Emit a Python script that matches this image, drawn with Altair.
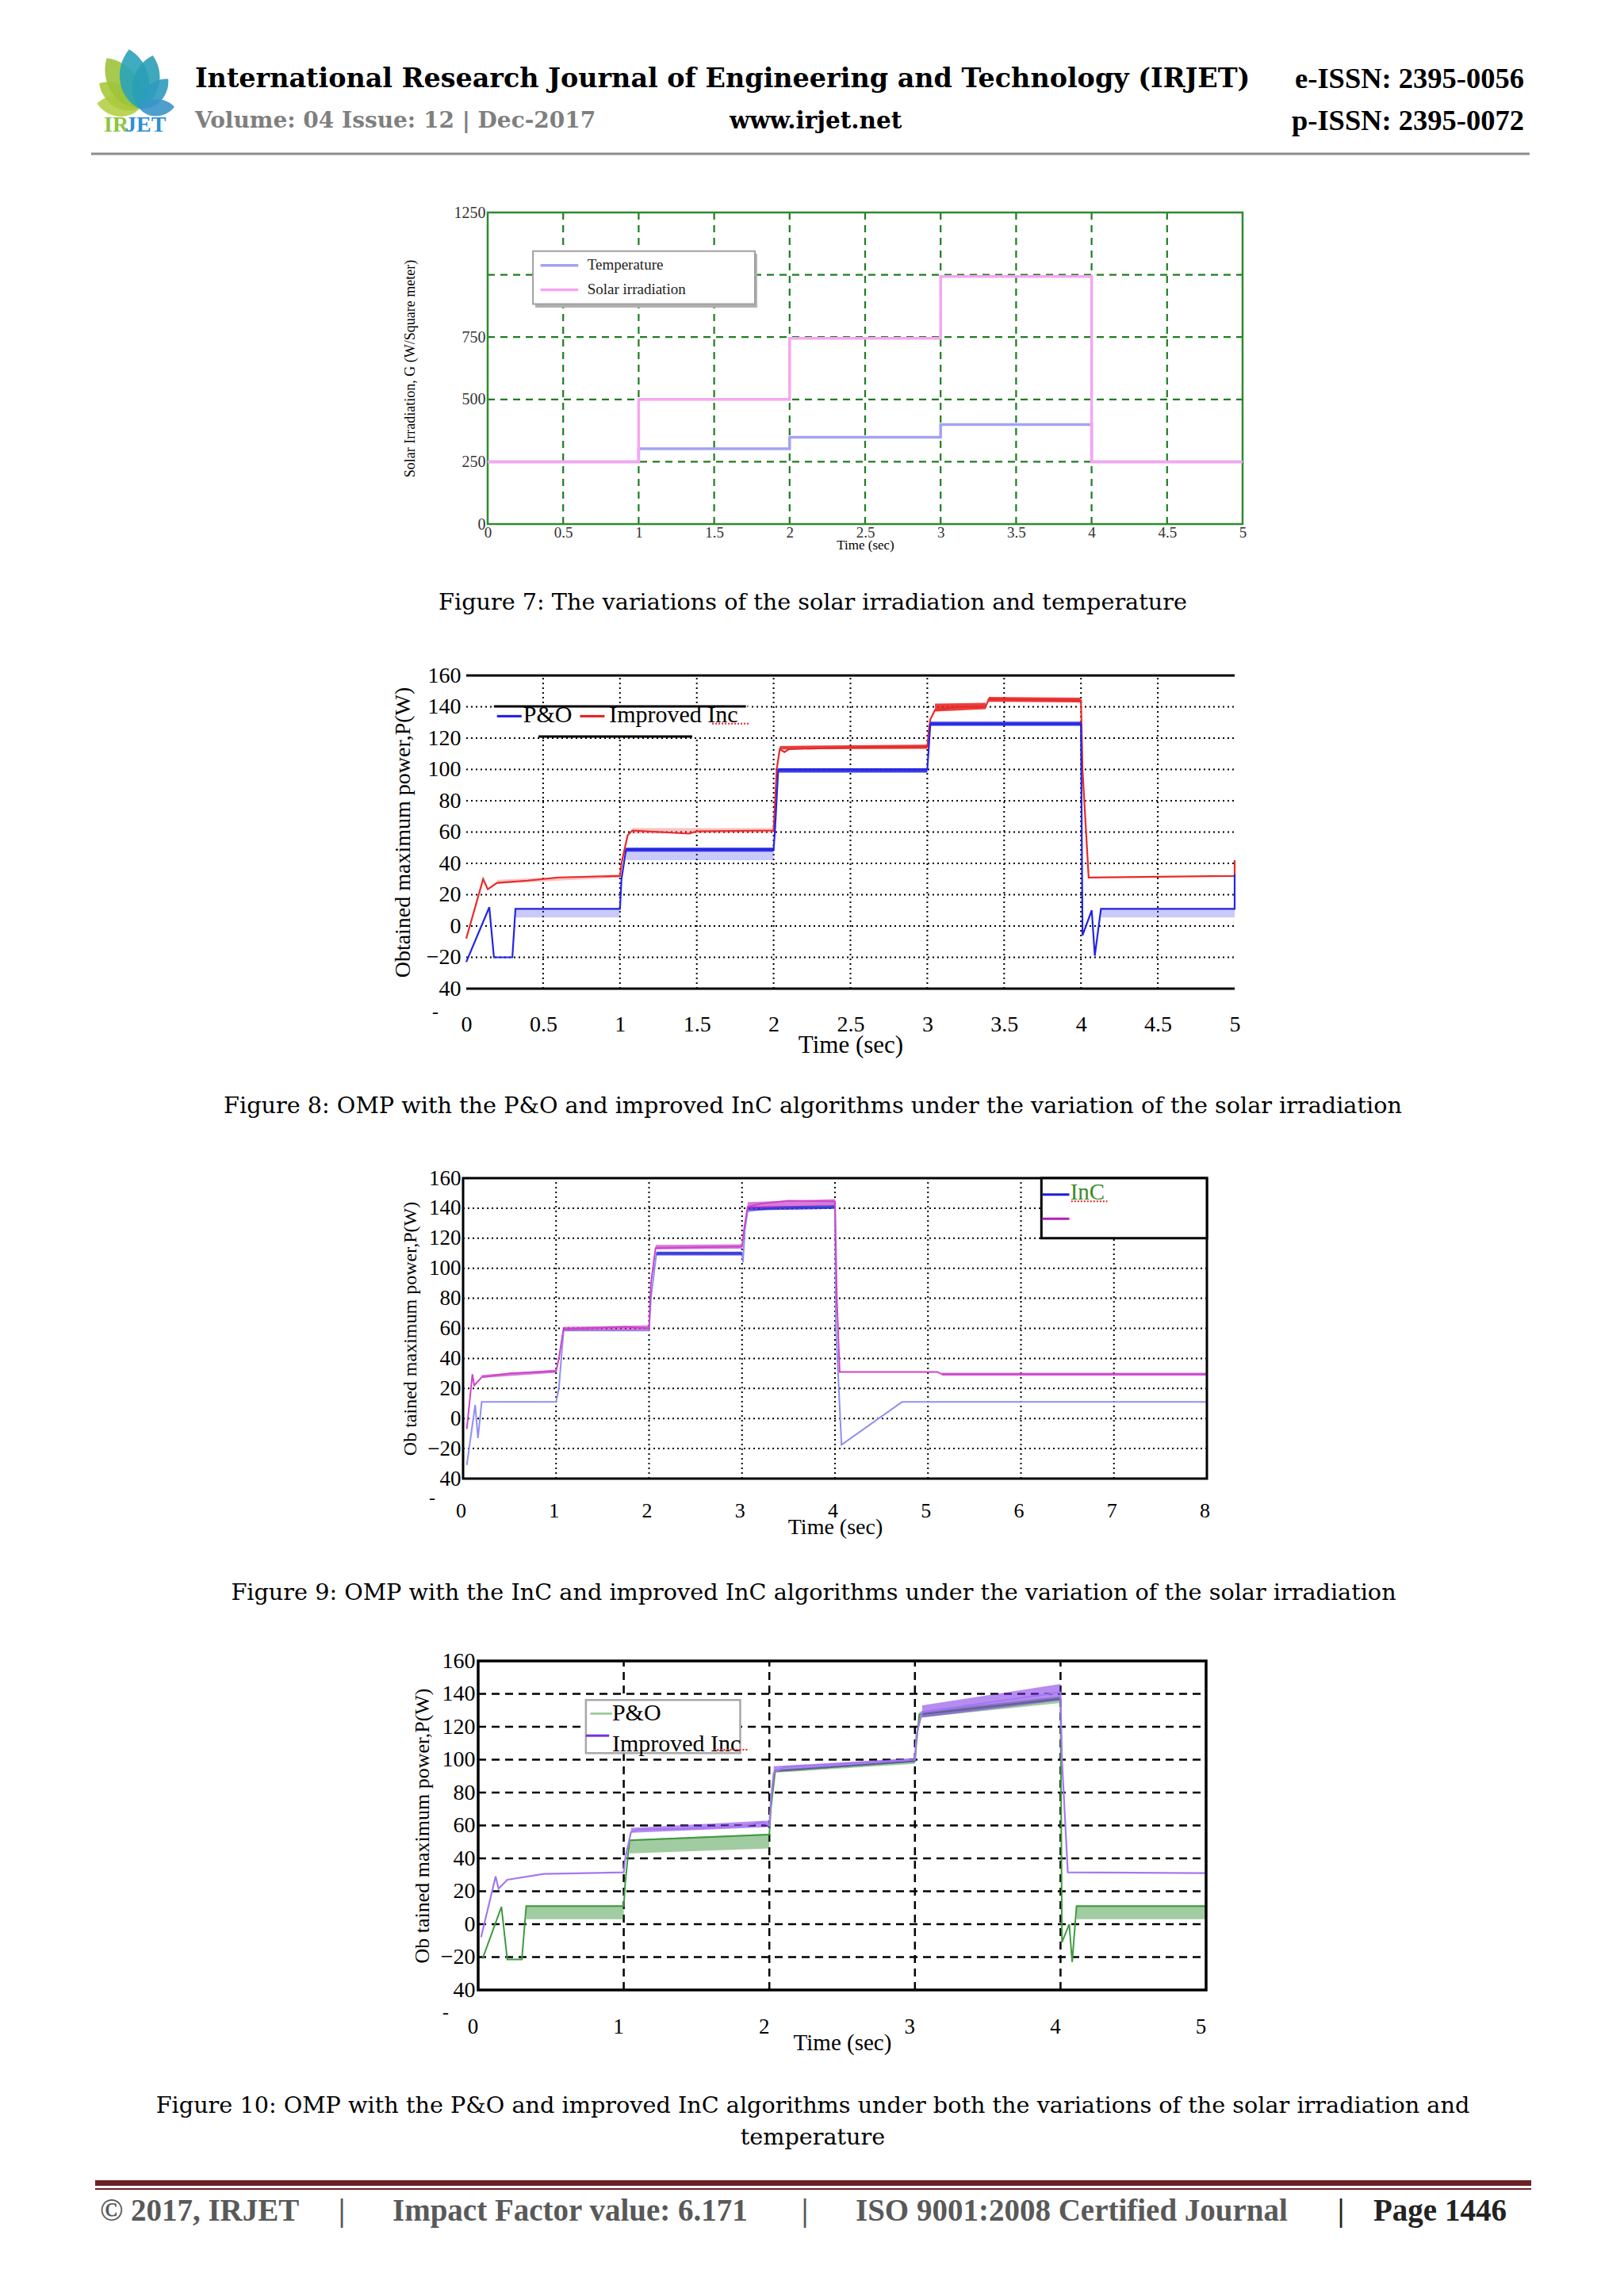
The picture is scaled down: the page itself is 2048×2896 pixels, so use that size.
import altair as alt
import pandas as pd

PAGE_W, PAGE_H = 2048, 2896
M = 8
W, H = PAGE_W - 2 * M, PAGE_H - 2 * M
SERIF = "Liberation Serif"
WIDE = "DejaVu Serif"

# ---------------- data ----------------
# Figure 7: irradiation / temperature steps
f7_t = [0, 1, 1, 2, 2, 3, 3, 4, 4, 5]
f7_solar = [250, 250, 500, 500, 745, 745, 993, 993, 250, 250]
f7_temp = [250, 250, 302, 302, 348, 348, 399, 399, 250, 250]

# Figure 8: P&O and Improved InC
po8_t = [0.00, 0.15, 0.18, 0.30, 0.32, 1.00, 1.01, 1.04, 2.00, 2.01, 2.03, 3.00, 3.02, 4.00, 4.01, 4.07, 4.09, 4.13, 5.00, 5.00]
po8_v = [-23, 12, -20, -20, 11, 11, 30, 49, 49, 63, 100, 100, 129, 129, -6, 10, -19, 11, 11, 33]
po8_ripple = [(0.32, 1.00, 5.5, 11.5, 5.5, 11.5), (1.04, 2.00, 42, 50, 42, 50), (4.13, 5.00, 5.5, 11.5, 5.5, 11.5)]
po8_core = [(1.04, 2.00, 47.5, 50, 47.5, 50), (2.03, 3.00, 98, 100.8, 98, 100.8),
            (3.02, 4.00, 127.8, 130.5, 127.8, 130.5)]
imp8_t = [0.00, 0.11, 0.14, 0.20, 0.40, 0.60, 1.00, 1.01, 1.05, 1.08, 1.45, 1.50, 2.00, 2.01, 2.02, 2.04, 2.07, 2.10,
          2.50, 3.00, 3.01, 3.02, 3.05, 3.20, 3.38, 3.40, 4.00, 4.01, 4.05, 5.00, 5.00]
imp8_v = [-8, 30, 23.5, 27.5, 29, 31, 32, 40, 58, 61, 59, 60.5, 61, 80, 100, 113, 111, 113,
          114, 114.5, 125, 132, 138, 140, 140, 145, 144, 100, 31, 32, 42]
imp8_ripple = [(0.20, 1.00, 27, 29.5, 31, 33), (1.08, 2.00, 59, 62.5, 59.5, 62.5)]
imp8_core = [(2.04, 3.00, 112.8, 115, 113.2, 115.8), (3.05, 3.38, 137, 142, 138.5, 142.5),
             (3.40, 4.00, 143.2, 146.3, 142.8, 145.8)]

# Figure 9: InC and Improved InC
inc9_t = [0.04, 0.13, 0.16, 0.20, 1.00, 1.03, 1.08, 2.00, 2.02, 2.08, 3.00, 3.01, 3.03, 3.06, 3.40, 4.00, 4.01, 4.07, 4.72, 8.00]
inc9_v = [-31, 9, -13, 11, 11, 20, 58.5, 58.5, 80, 110, 110, 104, 125, 138, 140.5, 140.5, 60, -17.5, 11, 11]
inc9_bands = [(2.08, 3.00, 108.5, 111, 108.5, 111), (3.06, 4.00, 138.5, 141, 139.5, 142)]
imp9_t = [0.04, 0.10, 0.12, 0.20, 0.50, 1.00, 1.03, 1.08, 1.75, 2.00, 2.02, 2.07, 3.00, 3.02, 3.06, 3.20, 3.50, 4.00,
          4.02, 4.05, 5.10, 5.15, 8.00]
imp9_v = [-7, 29.5, 22, 27.5, 30, 31.5, 40, 59.5, 61, 60, 90, 113.5, 114.5, 125, 141, 143, 145, 144.5,
          80, 31, 31, 29.5, 29.5]
imp9_bands = [(0.20, 1.00, 27, 29, 30.5, 32.5), (1.08, 2.00, 58.5, 61, 59, 62),
              (2.07, 3.00, 112.5, 115.5, 113, 116), (3.06, 4.00, 139.5, 144, 142, 146),
              (5.15, 8.00, 28.5, 30.5, 28.5, 30.5)]

# Figure 10: P&O and Improved InC (irradiation + temperature)
po10_t = [0.03, 0.16, 0.20, 0.30, 0.33, 1.00, 1.01, 1.04, 2.00, 2.01, 2.04, 3.00, 3.01, 3.03, 4.00, 4.01, 4.06, 4.08, 4.11, 5.00]
po10_v = [-21, 10.5, -21.5, -21.5, 11, 11, 25, 51, 54.5, 70, 93, 99, 110, 127.5, 137, -11, 0, -23, 11, 11]
po10_bands = [(0.33, 1.00, 3, 11.5, 3, 11.5), (1.04, 2.00, 43, 51.5, 46, 55),
              (2.04, 3.00, 92, 94, 97.5, 99.5), (3.03, 4.00, 125.5, 129, 134.5, 138.5),
              (4.11, 5.00, 3, 11.5, 3, 11.5)]
imp10_t = [0.02, 0.12, 0.14, 0.20, 0.45, 1.00, 1.01, 1.05, 1.10, 1.40, 1.80, 1.95, 2.00, 2.01, 2.03, 2.10, 3.00, 3.01,
           3.05, 4.00, 4.01, 4.05, 5.00]
imp10_v = [-8, 29, 21.5, 27, 30.5, 31.5, 40, 56, 57.5, 58, 59.5, 62, 60, 75, 92, 95.5, 100, 115,
           129, 141, 100, 31.5, 31]
imp10_bands = [(1.05, 2.00, 55.5, 58.5, 59, 63), (2.03, 3.00, 92.5, 96, 98.5, 101),
               (3.05, 4.00, 125.5, 133, 136, 146)]

# tick values
x_half = [0, 0.5, 1, 1.5, 2, 2.5, 3, 3.5, 4, 4.5, 5]
x_int5 = [0, 1, 2, 3, 4, 5]
x_int8 = [0, 1, 2, 3, 4, 5, 6, 7, 8]
y_pow = [-40, -20, 0, 20, 40, 60, 80, 100, 120, 140, 160]
y_f7 = [0, 250, 500, 750, 1250]

# ---------------- geometry (page pixels) ----------------
F = {
    'f7': dict(x0=615, x1=1567, yb=661, yt=268, xd=[0, 5], yd=[0, 1250]),
    'f8': dict(x0=588, x1=1557, yb=1247, yt=852, xd=[0, 5], yd=[-40, 160]),
    'f9': dict(x0=584, x1=1522, yb=1865, yt=1486, xd=[0, 8], yd=[-40, 160]),
    'f10': dict(x0=603, x1=1521, yb=2510, yt=2095, xd=[0, 5], yd=[-40, 160]),
}


def sx(f):
    g = F[f]
    return alt.Scale(domain=g['xd'], range=[g['x0'] - M, g['x1'] - M], nice=False, zero=False)


def sy(f):
    g = F[f]
    return alt.Scale(domain=g['yd'], range=[g['yb'] - M, g['yt'] - M], nice=False, zero=False)


def X(f, field='t'):
    return alt.X(f'{field}:Q', scale=sx(f), axis=None)


def Y(f, field='v'):
    return alt.Y(f'{field}:Q', scale=sy(f), axis=None)


def line(f, t, v, color, width=2.0):
    df = pd.DataFrame({'t': t, 'v': v, 'i': list(range(len(t)))})
    return alt.Chart(df).mark_line(color=color, strokeWidth=width).encode(
        x=X(f), y=Y(f), order='i:Q')


def bands(f, spec, color, opacity):
    rows = []
    for k, (t0, t1, lo0, hi0, lo1, hi1) in enumerate(spec):
        rows.append(dict(g=k, t=t0, lo=lo0, hi=hi0))
        rows.append(dict(g=k, t=t1, lo=lo1, hi=hi1))
    df = pd.DataFrame(rows)
    return alt.Chart(df).mark_area(color=color, opacity=opacity).encode(
        x=X(f), y=Y(f, 'lo'), y2='hi:Q', detail='g:N')


def vgrid(f, vals, color, width, dash):
    lo, hi = F[f]['yd']
    df = pd.DataFrame({'t': vals, 'a': [lo] * len(vals), 'b': [hi] * len(vals)})
    return alt.Chart(df).mark_rule(color=color, strokeWidth=width, strokeDash=dash).encode(
        x=X(f), y=Y(f, 'a'), y2='b:Q')


def hgrid(f, vals, color, width, dash):
    lo, hi = F[f]['xd']
    df = pd.DataFrame({'v': vals, 'a': [lo] * len(vals), 'b': [hi] * len(vals)})
    return alt.Chart(df).mark_rule(color=color, strokeWidth=width, strokeDash=dash).encode(
        y=Y(f), x=X(f, 'a'), x2='b:Q')


def hseg(f, t0, t1, v, color, width, dash=None):
    df = pd.DataFrame({'a': [t0], 'b': [t1], 'v': [v]})
    kw = dict(color=color, strokeWidth=width)
    if dash:
        kw['strokeDash'] = dash
    return alt.Chart(df).mark_rule(**kw).encode(y=Y(f), x=X(f, 'a'), x2='b:Q')


def rect(f, t0, t1, v0, v1, fill='white', fill_opacity=1.0, stroke='#000', sw=0.0):
    df = pd.DataFrame({'a': [t0], 'b': [t1], 'c': [v0], 'd': [v1]})
    kw = dict(fill=fill, fillOpacity=fill_opacity)
    if sw > 0:
        kw['stroke'] = stroke
        kw['strokeWidth'] = sw
    return alt.Chart(df).mark_rect(**kw).encode(
        x=X(f, 'a'), x2='b:Q', y=Y(f, 'c'), y2='d:Q')


def dtext(f, t, v, s, size, color='#000', align='left', font=SERIF):
    df = pd.DataFrame({'t': [t], 'v': [v], 's': [s]})
    return alt.Chart(df).mark_text(fontSize=size, color=color, align=align, baseline='middle', font=font).encode(
        x=X(f), y=Y(f), text='s:N')


def axes(f, xvals, yvals, xtitle, ytitle, lab_x, lab_y, pad_x, pad_y, tsize_x, tsize_y, title_y, title_x,
         label_color='#000', ylabel_expr=None, xlabel_offset=0):
    g = F[f]
    df = pd.DataFrame({'t': g['xd'], 'v': g['yd']})
    yax = dict(orient='left', offset=-(g['x0'] - M), values=yvals, format='d', title=ytitle, grid=False,
               domain=False, ticks=False, tickSize=0, labelFont=SERIF, labelFontSize=lab_y, labelPadding=pad_y,
               labelColor=label_color, titleFont=SERIF, titleFontSize=tsize_y, titleFontWeight='normal',
               titleColor='#000', titleX=title_x, titleBaseline='middle', labelFlush=False, labelOverlap=False)
    if ylabel_expr:
        yax['labelExpr'] = ylabel_expr
    return alt.Chart(df).mark_point(opacity=0).encode(
        x=alt.X('t:Q', scale=sx(f), axis=alt.Axis(
            orient='bottom', offset=(g['yb'] - M) - H, values=xvals, format='~g', title=xtitle, grid=False,
            domain=False, ticks=False, tickSize=0, labelFont=SERIF, labelFontSize=lab_x, labelPadding=pad_x,
            labelBaseline='middle', labelColor=label_color, labelOffset=xlabel_offset,
            titleFont=SERIF, titleFontSize=tsize_x,
            titleFontWeight='normal', titleColor='#000', titleY=title_y, titleBaseline='middle',
            labelFlush=False, labelOverlap=False)),
        y=alt.Y('v:Q', scale=sy(f), axis=alt.Axis(**yax)))


ONE = pd.DataFrame({'a': [0]})


def ptext(x, y, s, size, color='#000', weight='normal', align='left', font=SERIF):
    return alt.Chart(ONE).mark_text(text=s, fontSize=size, color=color, fontWeight=weight, align=align,
                                    baseline='middle', font=font).encode(x=alt.value(x - M), y=alt.value(y - M))


def prule(x0, x1, y, color, width):
    return alt.Chart(ONE).mark_rule(color=color, strokeWidth=width).encode(
        x=alt.value(x0 - M), x2=alt.value(x1 - M), y=alt.value(y - M))


layers = []

# ---------------- header ----------------
leaf = "M0,0 C0.34,-0.25 0.3,-0.75 0,-1 C-0.3,-0.75 -0.34,-0.25 0,0 Z"
leaf_df = pd.DataFrame({
    'a': [277, 302, 327, 350, 14, 44, 87],
    's': [4 * 54 ** 2, 4 * 60 ** 2, 4 * 76 ** 2, 4 * 76 ** 2, 4 * 69 ** 2, 4 * 52 ** 2, 4 * 44 ** 2],
    'c': ['#b5cf45', '#a9c93c', '#9cc43a', '#2aa3b8', '#2a9fb5', '#2f9bc0', '#3a95c8'],
})
layers.append(alt.Chart(leaf_df).mark_point(shape=leaf, filled=True, opacity=0.9).encode(
    x=alt.value(176 - M), y=alt.value(137 - M),
    angle=alt.Angle('a:Q', scale=None), size=alt.Size('s:Q', scale=None), color=alt.Color('c:N', scale=None)))
layers.append(ptext(131, 158, "IR", 28, color='#8cc63f', weight='bold'))
layers.append(ptext(158, 158, "JET", 28, color='#2f8fd0', weight='bold'))
layers.append(ptext(246, 100, "International Research Journal of Engineering and Technology (IRJET)", 33.4,
                    weight='bold', font=WIDE))
layers.append(ptext(246, 153, "Volume: 04 Issue: 12 | Dec-2017", 28, color='#7f7f7f', weight='bold', font=WIDE))
layers.append(ptext(920, 153, "www.irjet.net", 29.5, weight='bold', font=WIDE))
layers.append(ptext(1922, 100, "e-ISSN: 2395-0056", 36.5, weight='bold', align='right'))
layers.append(ptext(1922, 153, "p-ISSN: 2395-0072", 36.5, weight='bold', align='right'))
layers.append(prule(115, 1929, 194, '#8c8c8c', 3))

# ---------------- Figure 7 ----------------
G7 = '#1f7d1f'
layers.append(vgrid('f7', [0.5, 1, 1.5, 2, 2.5, 3, 3.5, 4, 4.5], G7, 2.2, [9, 7]))
layers.append(hgrid('f7', [250, 500, 750, 1000], G7, 2.2, [9, 7]))
layers.append(rect('f7', 0, 5, 0, 1250, fill='white', fill_opacity=0, stroke='#2e8b2e', sw=2.5))
layers.append(line('f7', f7_t, f7_temp, '#a3a3f2', 3.5))
layers.append(line('f7', f7_t, f7_solar, '#f6a6f2', 3.5))
layers.append(rect('f7', 0.315, 1.785, 868, 1085, fill='#b0b0b0'))
layers.append(rect('f7', 0.30, 1.77, 883, 1095, fill='white', stroke='#a0a0a0', sw=2))
layers.append(hseg('f7', 0.35, 0.60, 1038, '#a3a3f2', 3.5))
layers.append(hseg('f7', 0.35, 0.60, 940, '#f6a6f2', 3.5))
layers.append(dtext('f7', 0.66, 1040, "Temperature", 19, color='#222'))
layers.append(dtext('f7', 0.66, 942, "Solar irradiation", 19, color='#222'))
layers.append(axes('f7', x_half, y_f7, "Time (sec)", "Solar Irradiation, G (W/Square meter)",
                   19, 20, 10, 3, 17, 18, 26, -98, label_color='#333'))
layers.append(ptext(1025, 760, "Figure 7: The variations of the solar irradiation and temperature", 28.7,
                    align='center', font=WIDE))

# ---------------- Figure 8 ----------------
layers.append(vgrid('f8', [0.5, 1, 1.5, 2, 2.5, 3, 3.5, 4, 4.5], '#000', 2, [2, 4]))
layers.append(hgrid('f8', [-20, 0, 20, 40, 60, 80, 100, 120, 140], '#000', 2, [2, 4]))
layers.append(hseg('f8', 0, 5, 160, '#000', 3))
layers.append(hseg('f8', 0, 5, -40, '#000', 3))
layers.append(rect('f8', 0.18, 1.84, 121, 140, fill='white'))
layers.append(hseg('f8', 0.18, 1.82, 140.3, '#000', 3))
layers.append(hseg('f8', 0.47, 1.47, 121, '#000', 3))
layers.append(bands('f8', imp8_ripple, '#f05050', 0.35))
layers.append(bands('f8', imp8_core, '#e81c1c', 0.85))
layers.append(line('f8', imp8_t, imp8_v, '#e82a2a', 2.2))
layers.append(bands('f8', po8_ripple, '#5050f0', 0.3))
layers.append(bands('f8', po8_core, '#1c1ce0', 0.85))
layers.append(line('f8', po8_t, po8_v, '#2424e6', 2.2))
layers.append(hseg('f8', 0.20, 0.36, 134, '#1c1ce6', 3))
layers.append(dtext('f8', 0.37, 134.5, "P&O", 30))
layers.append(hseg('f8', 0.74, 0.90, 134, '#e81c1c', 3))
layers.append(dtext('f8', 0.93, 134.5, "Improved Inc", 30))
layers.append(hseg('f8', 1.60, 1.84, 129.3, '#e82020', 2, [2, 2]))
layers.append(axes('f8', x_half, y_pow, "Time (sec)", "Obtained maximum power,P(W)",
                   28, 28, 45, 7, 31, 28, 71, -80,
                   ylabel_expr="datum.value == -40 ? '40' : datum.label"))
layers.append(ptext(545, 1277, "-", 24))
layers.append(ptext(1025, 1395,
                    "Figure 8: OMP with the P&O and improved InC algorithms under the variation of the solar irradiation",
                    28.7, align='center', font=WIDE))

# ---------------- Figure 9 ----------------
layers.append(vgrid('f9', [1, 2, 3, 4, 5, 6, 7], '#000', 2, [2, 4]))
layers.append(hgrid('f9', [-20, 0, 20, 40, 60, 80, 100, 120, 140], '#000', 2, [2, 4]))
layers.append(line('f9', inc9_t, inc9_v, '#8f8ff0', 2))
layers.append(bands('f9', inc9_bands, '#2424d4', 0.8))
layers.append(bands('f9', imp9_bands, '#c020c0', 0.6))
layers.append(line('f9', imp9_t, imp9_v, '#cc44cc', 2))
layers.append(rect('f9', 0, 8, -40, 160, fill='white', fill_opacity=0, stroke='#000', sw=3))
layers.append(rect('f9', 6.22, 8, 120, 160, fill='white', stroke='#000', sw=3))
layers.append(hseg('f9', 6.23, 6.52, 149, '#1c1cd8', 3))
layers.append(hseg('f9', 6.23, 6.52, 133, '#b81cb8', 3))
layers.append(dtext('f9', 6.53, 150.5, "InC", 29, color='#3c8a28'))
layers.append(hseg('f9', 6.54, 6.93, 144.5, '#e82020', 2, [2, 2]))
layers.append(axes('f9', x_int8, y_pow, "Time (sec)", "Ob tained  maximum power,P(W)",
                   26, 27, 40, 3, 28, 24, 61, -67,
                   ylabel_expr="datum.value == -40 ? '40' : datum.label", xlabel_offset=-3))
layers.append(ptext(541, 1890, "-", 24))
layers.append(ptext(1026, 2009,
                    "Figure 9: OMP with the InC and improved InC algorithms under the variation of the solar irradiation",
                    28.7, align='center', font=WIDE))

# ---------------- Figure 10 ----------------
layers.append(vgrid('f10', [1, 2, 3, 4], '#000', 2.5, [10, 7]))
layers.append(hgrid('f10', [-20, 0, 20, 40, 60, 80, 100, 120, 140], '#000', 2.5, [10, 7]))
layers.append(bands('f10', po10_bands, '#2e8b2e', 0.45))
layers.append(line('f10', po10_t, po10_v, '#3f9a3f', 2))
layers.append(bands('f10', imp10_bands, '#7a2ee6', 0.55))
layers.append(line('f10', imp10_t, imp10_v, '#a478f0', 2.2))
layers.append(rect('f10', 0, 5, -40, 160, fill='white', fill_opacity=0, stroke='#000', sw=3.5))
layers.append(rect('f10', 0.74, 1.80, 104, 136.3, fill='white', stroke='#a8a8a8', sw=2.5))
layers.append(hseg('f10', 0.77, 0.92, 128, '#90c890', 2.5))
layers.append(dtext('f10', 0.92, 128, "P&O", 30))
layers.append(hseg('f10', 0.74, 0.90, 114.6, '#7a2ee6', 3))
layers.append(dtext('f10', 0.92, 109.5, "Improved Inc", 30))
layers.append(hseg('f10', 1.62, 1.86, 106, '#e82020', 2, [2, 2]))
layers.append(axes('f10', x_int5, y_pow, "Time (sec)", "Ob tained  maximum power,P(W)",
                   27, 28, 46, 4, 29, 26, 66, -71,
                   ylabel_expr="datum.value == -40 ? '40' : datum.label", xlabel_offset=-7))
layers.append(ptext(558, 2539, "-", 24))
layers.append(ptext(1025, 2656,
                    "Figure 10: OMP with the P&O and improved InC algorithms under both the variations of the solar irradiation and",
                    28.7, align='center', font=WIDE))
layers.append(ptext(1025, 2696, "temperature", 28.7, align='center', font=WIDE))

# ---------------- footer ----------------
layers.append(prule(120, 1931, 2753.5, '#6b2226', 7))
layers.append(prule(120, 1931, 2761, '#6b2226', 2))
FC = '#595959'
layers.append(ptext(126, 2789, "© 2017, IRJET", 39, color=FC, weight='bold'))
layers.append(ptext(431, 2789, "|", 39, color=FC, weight='bold', align='center'))
layers.append(ptext(495, 2789, "Impact Factor value: 6.171", 39, color=FC, weight='bold'))
layers.append(ptext(1015, 2789, "|", 39, color=FC, weight='bold', align='center'))
layers.append(ptext(1079, 2789, "ISO 9001:2008 Certified Journal", 39, color=FC, weight='bold'))
layers.append(ptext(1691, 2789, "|", 39, color='#222', weight='bold', align='center'))
layers.append(ptext(1732, 2789, "Page 1446", 39, color='#222', weight='bold'))

chart = alt.layer(*layers).resolve_scale(x='independent', y='independent').properties(
    width=W, height=H, padding=0, autosize=alt.AutoSizeParams(type='none'), background='white'
).configure_view(strokeWidth=0)

chart.save("out.html", embed_options={"renderer": "svg", "actions": False})
